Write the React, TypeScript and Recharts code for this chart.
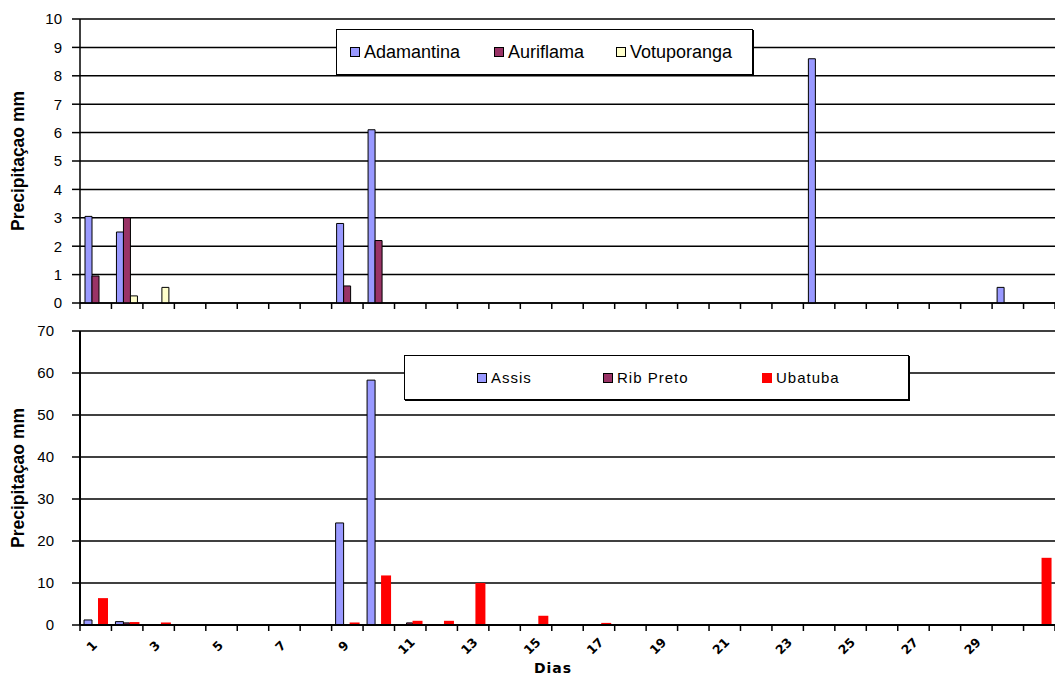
import { BarChart, Bar, XAxis, YAxis, CartesianGrid, Legend } from "recharts"

// dias do mês
const days = [
  1, 2, 3, 4, 5, 6, 7, 8, 9, 10,
  11, 12, 13, 14, 15, 16, 17, 18, 19, 20,
  21, 22, 23, 24, 25, 26, 27, 28, 29, 30, 31,
]
const labelDays = [1, 3, 5, 7, 9, 11, 13, 15, 17, 19, 21, 23, 25, 27, 29]

// painel superior (mm)
const adamantina = [
  3.05, 2.5, 0, 0, 0, 0, 0, 0, 2.8, 6.1,
  0, 0, 0, 0, 0, 0, 0, 0, 0, 0,
  0, 0, 0, 8.6, 0, 0, 0, 0, 0, 0.55, 0,
]
const auriflama = [
  0.95, 3.0, 0, 0, 0, 0, 0, 0, 0.6, 2.2,
  0, 0, 0, 0, 0, 0, 0, 0, 0, 0,
  0, 0, 0, 0, 0, 0, 0, 0, 0, 0, 0,
]
const votuporanga = [
  0, 0.25, 0.55, 0, 0, 0, 0, 0, 0, 0,
  0, 0, 0, 0, 0, 0, 0, 0, 0, 0,
  0, 0, 0, 0, 0, 0, 0, 0, 0, 0, 0,
]

// painel inferior (mm)
const assis = [
  1.2, 0.8, 0, 0, 0, 0, 0, 0, 24.3, 58.3,
  0, 0, 0, 0, 0, 0, 0, 0, 0, 0,
  0, 0, 0, 0, 0, 0, 0, 0, 0, 0, 0,
]
const ribPreto = [
  0, 0.5, 0, 0, 0, 0, 0, 0, 0, 0,
  0.5, 0, 0, 0, 0, 0, 0, 0, 0, 0,
  0, 0, 0, 0, 0, 0, 0, 0, 0, 0, 0,
]
const ubatuba = [
  6.4, 0.7, 0.6, 0, 0, 0, 0, 0, 0.6, 11.8,
  1.0, 1.0, 10, 0, 2.2, 0, 0.5, 0, 0, 0,
  0, 0, 0, 0, 0, 0, 0, 0, 0, 0, 16,
]

const topTicks = [0, 1, 2, 3, 4, 5, 6, 7, 8, 9, 10]
const bottomTicks = [0, 10, 20, 30, 40, 50, 60, 70]

const topData = days.map((d, i) => ({
  day: d,
  Adamantina: adamantina[i],
  Auriflama: auriflama[i],
  Votuporanga: votuporanga[i],
}))
const bottomData = days.map((d, i) => ({
  day: d,
  Assis: assis[i],
  "Rib Preto": ribPreto[i],
  Ubatuba: ubatuba[i],
}))

// eixo auxiliar: inteiros = divisas entre dias, x.5 = centro do dia
const axisTicks = [0, ...days.flatMap((d) => [d - 0.5, d])]

const W = 1055
const PLOT_LEFT = 80

const DayTick = (props: any) => {
  const { x, y, payload, showLabels } = props
  const v = payload.value
  if (!Number.isInteger(v)) {
    const day = v + 0.5
    if (!showLabels || !labelDays.includes(day)) return <g />
    return (
      <text
        transform={`translate(${x - 4},${y + 21}) rotate(-45)`}
        textAnchor="middle"
        dominantBaseline="central"
        fontFamily="DejaVu Sans"
        fontWeight="bold"
        fontSize={12.5}
        fill="#000"
      >
        {day}
      </text>
    )
  }
  return <line x1={x} x2={x} y1={y} y2={y + 6} stroke="#000" strokeWidth={1.5} />
}

const yTitle = (props: any) => {
  const { viewBox } = props
  const cy = viewBox.y + viewBox.height / 2
  return (
    <text
      transform={`translate(18,${cy}) rotate(-90)`}
      textAnchor="middle"
      dominantBaseline="central"
      fontFamily="Liberation Sans"
      fontWeight="bold"
      fontSize={17.5}
      fill="#000"
    >
      Precipitaçao mm
    </text>
  )
}

const diasTitle = (props: any) => {
  const { viewBox } = props
  return (
    <text
      x={553}
      y={viewBox.y + 43}
      textAnchor="middle"
      dominantBaseline="central"
      fontFamily="DejaVu Sans"
      fontWeight="bold"
      fontSize={14}
      letterSpacing={1}
      fill="#000"
    >
      Dias
    </text>
  )
}

const LegendBox = ({ items, width, height, offsets, fontSize, spacing }: any) => (
  <div
    style={{
      position: "relative",
      width,
      height,
      boxSizing: "border-box",
      background: "#fff",
      border: "1.5px solid #000",
      boxShadow: "1px 1px 0 #000",
    }}
  >
    {items.map((it: any, i: number) => (
      <div
        key={it.name}
        style={{
          position: "absolute",
          left: offsets[i],
          top: 0,
          height: "100%",
          display: "flex",
          alignItems: "center",
          fontFamily: "Liberation Sans",
          fontSize,
          letterSpacing: spacing,
          color: "#000",
          whiteSpace: "nowrap",
        }}
      >
        <span
          style={{
            width: 10,
            height: 10,
            boxSizing: "border-box",
            background: it.color,
            border: it.border ? "1px solid #000" : "none",
            marginRight: 4,
          }}
        />
        {it.name}
      </div>
    ))}
  </div>
)

const topItems = [
  { name: "Adamantina", color: "#9999FF", border: true },
  { name: "Auriflama", color: "#993366", border: true },
  { name: "Votuporanga", color: "#FFFFCC", border: true },
]
const bottomItems = [
  { name: "Assis", color: "#9999FF", border: true },
  { name: "Rib Preto", color: "#993366", border: true },
  { name: "Ubatuba", color: "#FF0000", border: false },
]

export default function App() {
  return (
    <div style={{ position: "absolute", left: 0, top: 0, width: W, height: 678, background: "#fff", overflow: "hidden" }}>
      <div style={{ position: "absolute", left: 0, top: 0 }}>
        <BarChart width={W} height={320} data={topData} margin={{ top: 19, right: 0, bottom: 0, left: 0 }} barGap={0} barSize={7}>
          <CartesianGrid vertical={false} stroke="#000" strokeWidth={1.5} />
          <XAxis dataKey="day" xAxisId="cat" hide height={0} />
          <XAxis
            xAxisId="edges"
            dataKey="day"
            type="number"
            domain={[0, 31]}
            allowDataOverflow
            ticks={axisTicks}
            interval={0}
            height={17}
            tickSize={0}
            tickMargin={0}
            tickLine={false}
            axisLine={{ stroke: "#000", strokeWidth: 1.5 }}
            tick={(p: any) => <DayTick {...p} showLabels={false} />}
          />
          <YAxis
            width={PLOT_LEFT}
            domain={[0, 10]}
            ticks={topTicks}
            interval={0}
            tickSize={8}
            tickMargin={10}
            axisLine={{ stroke: "#000", strokeWidth: 1.5 }}
            tickLine={{ stroke: "#000", strokeWidth: 1.5 }}
            tick={{ fill: "#000", fontSize: 15, fontFamily: "Liberation Sans" }}
            label={{ content: yTitle }}
          />
          <Legend
            verticalAlign="middle"
            align="center"
            content={() => (
              <LegendBox items={topItems} width={417} height={46} offsets={[13, 157, 279]} fontSize={18} spacing={0} />
            )}
            wrapperStyle={{ position: "absolute", left: 336, top: 29, width: 417, height: 46 }}
          />
          <Bar dataKey="Adamantina" xAxisId="cat" fill="#9999FF" stroke="#000" strokeWidth={1} isAnimationActive={false} />
          <Bar dataKey="Auriflama" xAxisId="cat" fill="#993366" stroke="#000" strokeWidth={1} isAnimationActive={false} />
          <Bar dataKey="Votuporanga" xAxisId="cat" fill="#FFFFCC" stroke="#000" strokeWidth={1} isAnimationActive={false} />
        </BarChart>
      </div>
      <div style={{ position: "absolute", left: 0, top: 315 }}>
        <BarChart width={W} height={363} data={bottomData} margin={{ top: 16, right: 0, bottom: 0, left: 0 }} barGap={0}>
          <CartesianGrid vertical={false} stroke="#000" strokeWidth={1.5} />
          <XAxis dataKey="day" xAxisId="cat" hide height={0} />
          <XAxis
            xAxisId="edges"
            dataKey="day"
            type="number"
            domain={[0, 31]}
            allowDataOverflow
            ticks={axisTicks}
            interval={0}
            height={53}
            tickSize={0}
            tickMargin={0}
            tickLine={false}
            axisLine={{ stroke: "#000", strokeWidth: 2 }}
            tick={(p: any) => <DayTick {...p} showLabels />}
            label={{ content: diasTitle }}
          />
          <YAxis
            width={PLOT_LEFT}
            domain={[0, 70]}
            ticks={bottomTicks}
            interval={0}
            tickSize={8}
            tickMargin={18}
            axisLine={{ stroke: "#000", strokeWidth: 2 }}
            tickLine={{ stroke: "#000", strokeWidth: 1.5 }}
            tick={{ fill: "#000", fontSize: 15, fontFamily: "Liberation Sans" }}
            label={{ content: yTitle }}
          />
          <Legend
            verticalAlign="middle"
            align="center"
            content={() => (
              <LegendBox items={bottomItems} width={505} height={45} offsets={[72, 198, 357]} fontSize={15} spacing={1} />
            )}
            wrapperStyle={{ position: "absolute", left: 404, top: 40, width: 505, height: 45 }}
          />
          <Bar dataKey="Assis" xAxisId="cat" barSize={8} fill="#9999FF" stroke="#000" strokeWidth={1} isAnimationActive={false} />
          <Bar dataKey="Rib Preto" xAxisId="cat" barSize={6} fill="#993366" stroke="#000" strokeWidth={1} isAnimationActive={false} />
          <Bar dataKey="Ubatuba" xAxisId="cat" barSize={10} fill="#FF0000" isAnimationActive={false} />
        </BarChart>
      </div>
    </div>
  )
}
